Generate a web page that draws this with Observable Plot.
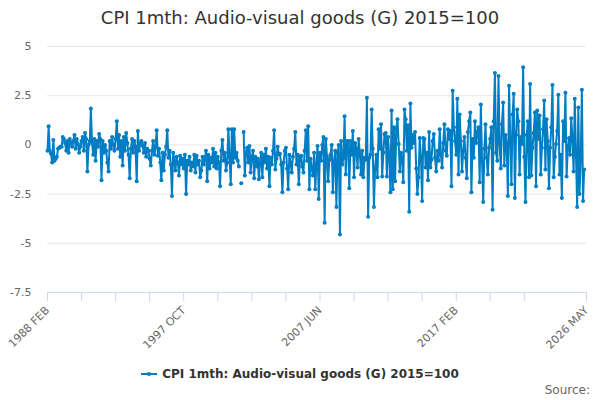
<!DOCTYPE html>
<html><head><meta charset="utf-8">
<script src="https://cdn.jsdelivr.net/npm/d3@7"></script>
<script src="https://cdn.jsdelivr.net/npm/@observablehq/plot@0.6"></script>
<style>
body{margin:0;width:600px;height:400px;position:relative;background:#fff;font-family:"DejaVu Sans",sans-serif;overflow:hidden}
#title{position:absolute;left:0;top:7px;width:600px;text-align:center;font-size:18px;line-height:22px;color:#333}
#chart{position:absolute;left:0;top:34px}
#legend{position:absolute;left:0;top:365px;width:600px;text-align:center;font-size:12px;font-weight:bold;color:#333;line-height:18px}
#source{position:absolute;right:10px;top:383px;font-size:12px;color:#666}
</style></head><body>
<div id="title">CPI 1mth: Audio-visual goods (G) 2015=100</div>
<div id="chart"></div>
<div id="legend"><svg width="16" height="10" style="vertical-align:middle;margin-right:5px;margin-top:-2px"><line x1="0" y1="5" x2="16" y2="5" stroke="#007dc3" stroke-width="2"/><circle cx="8" cy="5" r="2" fill="#007dc3"/></svg>CPI 1mth: Audio-visual goods (G) 2015=100</div>
<div id="source">Source:</div>
<script>
// Series start: 1988 FEB, monthly
const startYear = 1988;
const startMonth = 2;
const axisEndOffset = 459; // 2026 MAY
const monthNames = ["JAN","FEB","MAR","APR","MAY","JUN","JUL","AUG","SEP","OCT","NOV","DEC"];
const yTicks = [-7.5, -5, -2.5, 0, 2.5, 5];
const xTickStep = 29;
const xLabelOffsets = [0, 116, 232, 348, 459];

// Monthly % change values
const cpi1988to1994 = [
  -0.3, 0.95, -0.3, -0.45, -0.9, 0.25, -0.8, -0.7, -0.6, -0.2,
  -0.15, -0.1, -0.1, 0.4, 0.3, 0.1, -0.3, 0.2, -0.4, 0.3,
  0.1, -0.1, 0.2, 0.5, -0.2, 0.3, 0.05, -0.4, -0.1, 0.2,
  0.4, -0.3, 0.6, 0.3, -1.35, 0.0, 0.2, 1.85, 0.1, -0.5,
  0.3, -0.8, 0.2, -0.1, 0.55, 0.3, -1.8, 0.2, -0.4, 0.0,
  -0.3, -0.9, -1.35, 0.2, -0.2, 0.4, 0.0, -0.3, 0.3, 1.2,
  -0.2, 0.5, -0.6, 0.2, -1.05, 0.4, -0.3, 0.6, 0.1, -0.5,
  -1.7, -0.2, 0.3, -0.4, 0.2, -0.1, -1.85, 0.7, -0.3, 0.1
];
const cpi1994to2002 = [
  0.2, -0.05, -0.4, 0.1, -0.6, -0.2, -0.3, -0.7, -1.05, -0.3,
  0.2, -0.5, -0.1, 0.75, -0.55, -0.2, -0.9, -1.8, -0.4, -1.3,
  -0.5, -0.1, 0.75, -0.65, -0.3, -1.0, -2.6, -0.4, -0.8, -1.3,
  -0.6, -0.9, -1.55, -0.55, -1.0, -0.7, -1.2, -0.5, -2.5, -0.8,
  -1.0, -0.6, -1.3, -0.9, -1.1, -0.5, -1.4, -0.55, -1.0, -0.8,
  -1.65, -1.3, -0.6, -1.0, -0.7, -0.3, -1.85, -0.5, -1.2, -0.65,
  -0.9, -0.2, -1.1, -0.4, -1.2, -0.6, -0.9, -2.1, -0.3, 0.25,
  -0.8, -0.4, -1.3, -0.9, 0.8, -0.6, -2.0, 0.8, -0.9, 0.8,
  -0.65, -0.4, -0.8, -1.1, null, -1.95, null, 0.65, -1.55, -0.4
];
const cpi2002to2010 = [
  -0.15, -0.9, -0.05, -1.4, -0.6, -0.3, -1.7, -0.6, -1.1, -0.7,
  -1.75, -0.9, -0.4, -1.65, -0.5, -0.9, -0.2, -1.2, -0.6, -2.1,
  -0.65, -1.0, -0.3, 0.75, -1.25, -0.7, -0.1, -0.5, -0.45, -1.0,
  -2.4, -0.9, -0.3, -0.15, -1.2, -2.25, -0.5, -0.9, -1.4, -0.6,
  -0.2, 0.65, -1.0, -0.5, -2.0, -0.6, -0.55, -1.1, -1.4, -0.3,
  0.75, -0.8, 0.95, -2.25, -0.7, -1.2, -1.55, -0.4, -2.25, -1.0,
  -0.05, -2.75, -0.4, -0.8, 0.0, 0.4, -3.95, 0.3, -0.6, -1.85,
  -0.75, -0.5, 0.0, -2.4, -0.8, -0.3, -3.15, -0.4, 0.0, -4.55
];
const cpi2010to2018 = [
  0.2, -1.0, -0.65, 1.45, -1.5, 0.2, 0.2, -2.2, 0.2, -0.5,
  0.7, -1.65, 0.1, -0.2, -1.15, 0.3, -0.4, -1.5, -0.3, -1.65,
  -0.65, -0.75, 2.4, -3.65, -0.65, -0.5, 1.8, -0.2, -3.15, -1.15,
  -0.5, -1.65, 0.8, -0.2, 1.05, -1.6, -0.4, 0.55, 0.6, -1.6,
  0.4, -0.6, -2.4, 1.75, -2.25, 0.9, -1.85, 0.8, 1.3, 0.05,
  -1.35, -0.4, -0.65, -1.9, 1.8, 1.3, -0.3, 1.0, -3.4, 2.1,
  -0.15, 0.5, 0.1, 0.65, -1.2, -2.5, -1.65, 0.35, -0.6, -2.85,
  0.35, 0.3, -1.15, -0.4, -1.8, 0.65, -1.15, -0.75, 0.2, 0.55,
  -0.65, -1.35, -0.3, -0.8, 0.8, -0.5, -1.15, 0.1, 1.05, -0.3,
  -0.55, 0.8, 0.3, 0.7, -2.1, 2.75, 0.9, 0.2, -0.5, 2.35
];
const cpi2018to2026 = [
  -1.5, 1.55, 0.2, -1.35, -0.3, 0.4, -0.65, -1.7, 0.65, 1.2,
  1.65, -2.4, 0.3, -0.65, 1.2, 0.1, 0.65, 0.9, -1.9, 2.05,
  -0.8, -2.9, -0.2, 1.05, -0.65, -1.5, -0.15, 0.3, 0.9, -3.3,
  1.2, 3.65, -0.4, -0.8, 3.5, 0.05, -1.2, 1.05, 2.15, -1.05,
  0.5, 0.05, -2.6, 3.0, 0.4, -2.0, 1.55, 2.6, -2.7, 0.5,
  1.8, 1.2, -1.5, 0.4, 0.05, 3.95, -0.6, -2.9, 0.5, 1.2,
  -1.65, 3.1, -1.55, -0.15, 0.6, 1.65, -2.1, 1.75, 0.3, 1.5,
  -1.5, -0.15, 0.8, 2.25, -1.25, 1.3, 0.2, -2.2, -0.15, 0.9,
  3.05, -1.65, -0.6, 0.05, 0.7, 2.55, -1.5, -0.5, -2.7, 1.2,
  0.2, 2.65, -1.6, -0.2, 0.35, -0.5, 1.35, 0.3, -1.35, 2.35,
  -0.5, -3.15, 1.9, -2.5, -0.8, 2.8, -2.85, -1.25
];

const values = [].concat(cpi1988to1994, cpi1994to2002, cpi2002to2010, cpi2010to2018, cpi2018to2026);
const start = new Date(Date.UTC(startYear, startMonth - 1, 1));
const end = d3.utcMonth.offset(start, axisEndOffset);
const data = values.map((v, i) => ({date: d3.utcMonth.offset(start, i), value: v}));
const tickDates = d3.range(0, axisEndOffset - xTickStep + 5, xTickStep).map(k => d3.utcMonth.offset(start, k)).concat([end]);
const labelDates = xLabelOffsets.map(k => d3.utcMonth.offset(start, k));
const fmt = d => `${d.getUTCFullYear()} ${monthNames[d.getUTCMonth()]}`;
const color = "#007dc3";

const chart = Plot.plot({
  width: 600, height: 330,
  marginLeft: 47, marginRight: 14, marginTop: 12, marginBottom: 72,
  style: {fontFamily: "DejaVu Sans", fontSize: "11px", background: "white", overflow: "visible"},
  x: {type: "utc", domain: [start, end]},
  y: {domain: [-7.5, 5]},
  marks: [
    Plot.ruleY(yTicks.filter(t => t > -7.5), {stroke: "#e6e6e6"}),
    Plot.ruleY([-7.5], {stroke: "#ccd6eb"}),
    Plot.axisY({ticks: yTicks, tickSize: 0, tickPadding: 16, tickFormat: d => String(d), fill: "#666", fontSize: 11, label: null}),
    Plot.axisX({ticks: tickDates, tickSize: 9, tickFormat: () => "", stroke: "#ccd6eb", label: null}),
    Plot.axisX({ticks: labelDates, tickSize: 0, tickPadding: 16, tickFormat: fmt, tickRotate: -45, textAnchor: "end", fill: "#666", fontSize: 11, label: null}),
    Plot.line(data, {x: "date", y: "value", stroke: color, strokeWidth: 2}),
    Plot.dot(data, {x: "date", y: "value", r: 2, fill: color})
  ]
});
document.getElementById("chart").appendChild(chart);
</script>
</body></html>
